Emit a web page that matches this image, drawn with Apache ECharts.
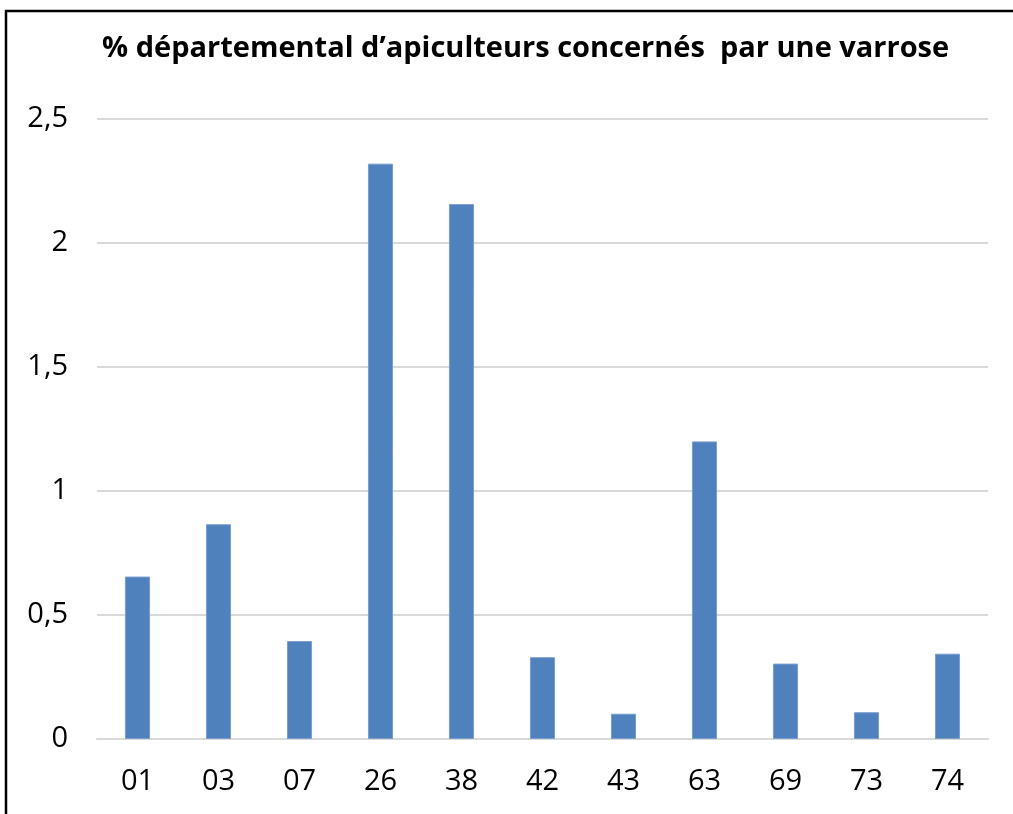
<!DOCTYPE html>
<html>
<head>
<meta charset="utf-8">
<script src="https://cdn.jsdelivr.net/npm/echarts@6/dist/echarts.min.js"></script>
<style>
  html, body { margin: 0; padding: 0; background: #fff; }
  #main { width: 1013px; height: 814px; }
</style>
</head>
<body>
<div id="main"></div>
<script>
var titleText = '% départemental d\u2019apiculteurs concernés  par une varrose';
var departements = ['01', '03', '07', '26', '38', '42', '43', '63', '69', '73', '74'];
var pourcentages = [0.655, 0.866, 0.395, 2.32, 2.157, 0.33, 0.102, 1.2, 0.304, 0.108, 0.344];

var font = "'Open Sans', sans-serif";
var myChart = echarts.init(document.getElementById('main'));

myChart.setOption({
  animation: false,
  title: {
    text: titleText,
    left: 97,
    top: 29,
    textStyle: { fontFamily: font, fontSize: 29, fontWeight: 'bold', color: '#000' }
  },
  grid: { left: 97, right: 25, top: 119, bottom: 75 },
  xAxis: {
    type: 'category',
    data: departements,
    axisLine: { lineStyle: { color: '#d9d9d9', width: 2 } },
    axisTick: { show: false },
    axisLabel: { fontFamily: font, fontSize: 29, color: '#000', margin: 28 }
  },
  yAxis: {
    type: 'value',
    min: 0,
    max: 2.5,
    interval: 0.5,
    axisLine: { show: false },
    axisTick: { show: false },
    splitLine: { lineStyle: { color: '#d9d9d9', width: 2 } },
    axisLabel: {
      fontFamily: font, fontSize: 29, color: '#000', margin: 29,
      formatter: function (v) { return String(v).replace('.', ','); }
    }
  },
  series: [{
    type: 'bar',
    data: pourcentages,
    barWidth: '31%',
    itemStyle: { color: '#4f81bd', borderColor: '#7a9fd0', borderWidth: 1 }
  }],
  graphic: [{
    type: 'rect',
    shape: { x: 6, y: 11, width: 1100, height: 900 },
    style: { fill: null, stroke: '#000', lineWidth: 2.5 },
    silent: true
  }]
});
</script>
</body>
</html>
